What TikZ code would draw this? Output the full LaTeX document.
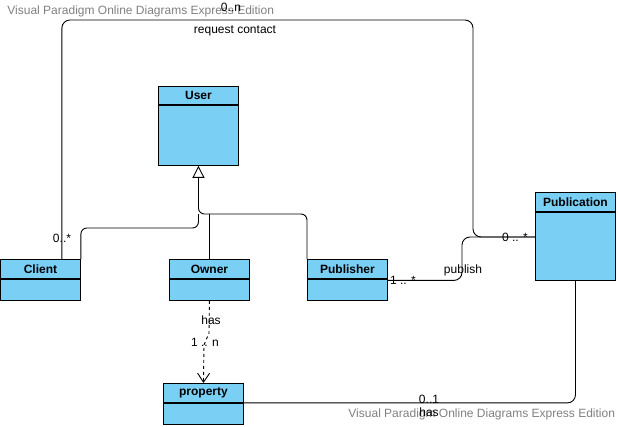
\documentclass[tikz,border=0pt]{standalone}
\usepackage{fontspec}
\setmainfont{Liberation Sans}
\usetikzlibrary{arrows.meta,positioning,calc}
\definecolor{classblue}{RGB}{122,207,245}
\definecolor{wmgray}{RGB}{128,128,128}
\begin{document}
\begin{tikzpicture}[x=1pt, y=-1pt, line width=0.9pt,
  classhead/.style={draw, fill=classblue, minimum width=80pt, minimum height=19pt, inner sep=0pt, anchor=north west, font=\fontsize{12}{14}\selectfont\bfseries},
  classbody/.style={draw, fill=classblue, minimum width=80pt, inner sep=0pt},
  lbl/.style={inner sep=0pt, font=\fontsize{12}{14}\selectfont},
  wmark/.style={inner sep=0pt, anchor=west, text=wmgray, font=\fontsize{12}{14}\selectfont}]
\useasboundingbox (0,0) rectangle (618,426);

\node[wmark] (wmtop) at (7,11) {Visual Paradigm Online Diagrams Express Edition};
\node[wmark] (wmbot) at (348,414) {Visual Paradigm Online Diagrams Express Edition};

\node[classhead, minimum height=18pt] (userhead) at (158,86) {User};
\node[classbody, minimum height=60pt, below=0pt of userhead] (userbody) {};
\node[classhead] (clienthead) at (0,259) {Client};
\node[classbody, minimum height=21pt, below=0pt of clienthead] (clientbody) {};
\node[classhead] (ownerhead) at (169,259) {Owner};
\node[classbody, minimum height=21pt, below=0pt of ownerhead] (ownerbody) {};
\node[classhead] (publisherhead) at (307,259) {Publisher};
\node[classbody, minimum height=21pt, below=0pt of publisherhead] (publisherbody) {};
\node[classhead] (publicationhead) at (535,192) {Publication};
\node[classbody, minimum height=68pt, below=0pt of publicationhead] (publicationbody) {};
\node[classhead] (propertyhead) at (163,383) {property};
\node[classbody, minimum height=21pt, below=0pt of propertyhead] (propertybody) {};

\coordinate (genjoin) at (userbody.south |- 0,214);
\coordinate (pubin) at ($(publicationhead.north west)+(0,45)$);
\coordinate (pubout) at ($(publisherbody.north east)+(0,1.5)$);

\draw[rounded corners=6pt, -{Triangle[open, length=12pt, width=12pt]}] (publisherhead.north west) |- (genjoin) -- (userbody.south);
\draw (ownerhead.north) -- (ownerhead.north |- genjoin);
\draw[rounded corners=6pt] (clienthead.north east) |- ($(genjoin)+(0,14)$) -- (genjoin);

\draw[rounded corners=8pt] ($(clienthead.north east)+(-19,0)$) |- (473,20) |- (pubin);
\draw[rounded corners=8pt] (pubout) -| (462,237) -- (pubin);
\draw[dashed, -{Straight Barb[length=9pt, width=12pt]}] (ownerbody.south) -- (209,333) -- (204,345) -- (propertyhead.north);
\draw[rounded corners=8pt] (propertybody.north east) -| (publicationbody.south);

\node[lbl] (reqmult) at (231,7) {0..n};
\node[lbl] (reqlbl) at (235,31) {request contact};
\node[lbl] (clientmult) at (62,238) {0..*};
\node[lbl] (pubmult) at (515,237) {0 .. *};
\node[lbl] (publbl) at (463,270) {publish};
\node[lbl] (publishermult) at (403,280) {1 .. *};
\node[lbl] (haslbl) at (211,320) {has};
\node[lbl] (ownermult) at (205,342) {1 .. n};
\node[lbl] (propmult) at (429,399) {0..1};
\node[lbl] (haslbltwo) at (429,412) {has};
\end{tikzpicture}
\end{document}
